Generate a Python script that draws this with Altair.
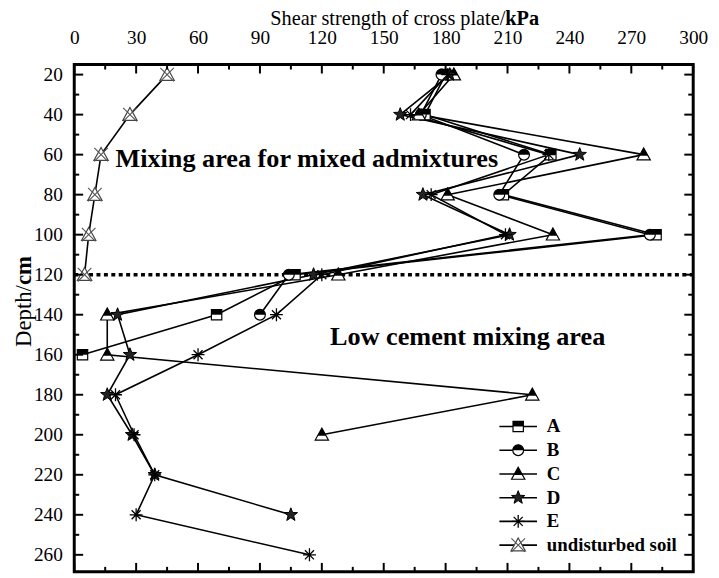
import math
import altair as alt
import pandas as pd

# ---------------- data ----------------
depths = [20, 40, 60, 80, 100, 120, 140, 160, 180, 200, 220, 240, 260]
series_names = ["A", "B", "C", "D", "E", "undisturbed soil"]
vals_A = [180, 170, 231, 208, 282, 107, 69, 4]
vals_B = [178, 168, 218, 206, 279, 104, 90]
vals_C = [184, 167, 276, 181, 232, 128, 16, 16, 222, 120]
vals_D = [182, 158, 245, 169, 211, 116, 21, 27, 16, 28, 39, 105]
vals_E = [181, 163, 230, 173, 209, 120, 98, 60, 20, 29, 39, 30, 114]
vals_U = [45, 27, 13, 10, 7, 5]
x_ticks = list(range(0, 301, 30))
x_minor = list(range(15, 300, 30))
y_ticks = list(range(20, 261, 20))
y_minor = list(range(30, 260, 20))
boundary_depth = [120]
notes = ["Mixing area for mixed admixtures", "Low cement mixing area"]
note_x = [20, 124]
note_depth = [62, 151]

all_vals = [vals_A, vals_B, vals_C, vals_D, vals_E, vals_U]

W, H = 626, 513
FONT = "Liberation Serif"
FONT_REG = "Times New Roman, Liberation Serif, serif"

frames = []
for name, vals in zip(series_names, all_vals):
    frames.append(pd.DataFrame({"series": name, "depth": depths[:len(vals)], "v": vals}))
df = pd.concat(frames, ignore_index=True)

xs = alt.Scale(domain=[0, 300], nice=False, zero=False)
ys = alt.Scale(domain=[15, 268.5], nice=False, zero=False, reverse=True)
X = alt.X("v:Q", scale=xs, axis=alt.Axis(orient="top", values=x_ticks, ticks=False, domain=False,
                                          grid=False, title=None, labelPadding=17, labelFlush=False,
                                          labelOverlap=False))
Y = alt.Y("depth:Q", scale=ys, axis=alt.Axis(orient="left", values=y_ticks, ticks=False, domain=False,
                                              grid=False, title=None, labelPadding=12, labelOverlap=False))

# ------------- marker shapes -------------
def star_path(n=5, ro=1.0, ri=0.42):
    pts = []
    for k in range(2 * n):
        r = ro if k % 2 == 0 else ri
        a = -math.pi / 2 + k * math.pi / n
        pts.append(f"{r*math.cos(a):.3f},{r*math.sin(a):.3f}")
    return "M" + "L".join(pts) + "Z"

SQ = "M-1,-1L1,-1L1,1L-1,1Z"
SQ_TOP = "M-1,-1L1,-1L1,0L-1,0Z"
CI = "M-1,0A1,1 0 1,1 1,0A1,1 0 1,1 -1,0Z"
CI_TOP = "M-1,0A1,1 0 0,1 1,0Z"
TR = "M0,-1L1,0.8L-1,0.8Z"
TR_TOP = "M0,-1L0.64,0.15L-0.64,0.15Z"
ST = star_path()
AST = "M0,-1L0,1M-1,0L1,0M-0.7,-0.7L0.7,0.7M-0.7,0.7L0.7,-0.7"
XX = "M-0.95,-0.95L0.95,0.95M0.95,-0.95L-0.95,0.95"

# (shape, fill or None, stroke or None, strokeWidth, size)
marker_spec = {
    "A": [(SQ, "white", "black", 1.2, 110), (SQ_TOP, "black", None, 0, 110)],
    "B": [(CI, "white", "black", 1.2, 120), (CI_TOP, "black", None, 0, 120)],
    "C": [(TR, "white", "black", 1.2, 180), (TR_TOP, "black", None, 0, 180)],
    "D": [(ST, "#222222", "black", 1.0, 200)],
    "E": [(AST, None, "black", 1.3, 170)],
    "undisturbed soil": [(TR, "white", "#444444", 1.2, 210), (XX, None, "#555555", 1.1, 210)],
}

def point_layers(data, enc):
    out = []
    for shape, fill, stroke, sw, size in data["spec"]:
        if fill is None:
            m = alt.Chart(data["df"]).mark_point(shape=shape, filled=False, color=stroke,
                                                 strokeWidth=sw, size=size, opacity=1)
        elif stroke is None:
            m = alt.Chart(data["df"]).mark_point(shape=shape, filled=True, fill=fill,
                                                 strokeWidth=0, size=size, opacity=1)
        else:
            m = alt.Chart(data["df"]).mark_point(shape=shape, filled=True, fill=fill, stroke=stroke,
                                                 strokeWidth=sw, size=size, opacity=1)
        out.append(m.encode(**enc))
    return out

layers = []

# boundary line
layers.append(alt.Chart(pd.DataFrame({"depth": boundary_depth})).mark_rule(
    color="black", strokeWidth=3.5, strokeDash=[4, 3.5]).encode(
    y=Y, x=alt.value(0), x2=alt.value(W)))

# series lines
layers.append(alt.Chart(df).mark_line(color="black", strokeWidth=1.6).encode(
    x=X, y=Y, detail="series:N", order=alt.Order("depth:Q")))

# series markers
for name in series_names:
    sub = df[df["series"] == name]
    layers += point_layers({"df": sub, "spec": marker_spec[name]}, {"x": X, "y": Y})

# ticks (inward)
def tick_df_y(vals):
    return pd.DataFrame({"depth": vals})

def tick_df_x(vals):
    return pd.DataFrame({"v": vals})

for vals, ln in [(y_ticks, 9), (y_minor, 5)]:
    layers.append(alt.Chart(tick_df_y(vals)).mark_rule(color="black", strokeWidth=2).encode(
        y=Y, x=alt.value(0), x2=alt.value(ln)))
    layers.append(alt.Chart(tick_df_y(vals)).mark_rule(color="black", strokeWidth=2).encode(
        y=Y, x=alt.value(W - ln), x2=alt.value(W)))
for vals, ln in [(x_ticks, 9), (x_minor, 5)]:
    layers.append(alt.Chart(tick_df_x(vals)).mark_rule(color="black", strokeWidth=2).encode(
        x=X, y=alt.value(0), y2=alt.value(ln)))
    layers.append(alt.Chart(tick_df_x(vals)).mark_rule(color="black", strokeWidth=2).encode(
        x=X, y=alt.value(H - ln), y2=alt.value(H)))

# annotations
notes_df = pd.DataFrame({"label": notes, "v": note_x, "depth": note_depth})
layers.append(alt.Chart(notes_df).mark_text(font=FONT, fontSize=26.5, fontWeight="bold", align="left",
                                            baseline="middle", color="black").encode(
    x=X, y=Y, text="label:N"))

# axis titles with mixed weight
one = pd.DataFrame({"k": [0]})
layers.append(alt.Chart(one).mark_text(text="Shear strength of cross plate/", font=FONT_REG, fontSize=20.5,
                                       fontWeight="normal", align="right", baseline="alphabetic",
                                       color="black").encode(
    x=alt.value(436), y=alt.value(-40)))
layers.append(alt.Chart(one).mark_text(text="kPa", font=FONT, fontSize=20.5, fontWeight="bold",
                                       align="left", baseline="alphabetic", color="black").encode(
    x=alt.value(436), y=alt.value(-40)))
layers.append(alt.Chart(one).mark_text(text="Depth/", font=FONT_REG, fontSize=23, angle=270,
                                       fontWeight="normal", align="right", baseline="alphabetic",
                                       color="black").encode(
    x=alt.value(-44), y=alt.value(223)))
layers.append(alt.Chart(one).mark_text(text="cm", font=FONT, fontSize=23, fontWeight="bold", angle=270,
                                       align="left", baseline="alphabetic", color="black").encode(
    x=alt.value(-44), y=alt.value(223)))

# legend (manual, inside plot)
LX0, LX1, LMX, LTX, LY0, LDY = 430, 468, 449, 478, 366, 24
for i, name in enumerate(series_names):
    ly = LY0 + i * LDY
    row = pd.DataFrame({"s": [name]})
    layers.append(alt.Chart(row).mark_rule(color="black", strokeWidth=1.6).encode(
        x=alt.value(LX0), x2=alt.value(LX1), y=alt.value(ly)))
    layers += point_layers({"df": row, "spec": marker_spec[name]},
                           {"x": alt.value(LMX), "y": alt.value(ly)})
    layers.append(alt.Chart(row).mark_text(font=FONT, fontSize=19, fontWeight="bold", align="left",
                                           baseline="middle", color="black").encode(
        x=alt.value(LTX), y=alt.value(ly), text="s:N"))

chart = alt.layer(*layers).properties(
    width=W, height=H,
    autosize=alt.AutoSizeParams(type="none"),
    padding={"left": 67, "top": 54, "right": 18, "bottom": 3},
).configure_view(stroke="black", strokeWidth=3).configure_axis(
    labelFont=FONT_REG, labelFontSize=19.5, labelColor="black", labelFontWeight="normal"
)

chart.save("out.html", embed_options={"renderer": "svg", "actions": False})
